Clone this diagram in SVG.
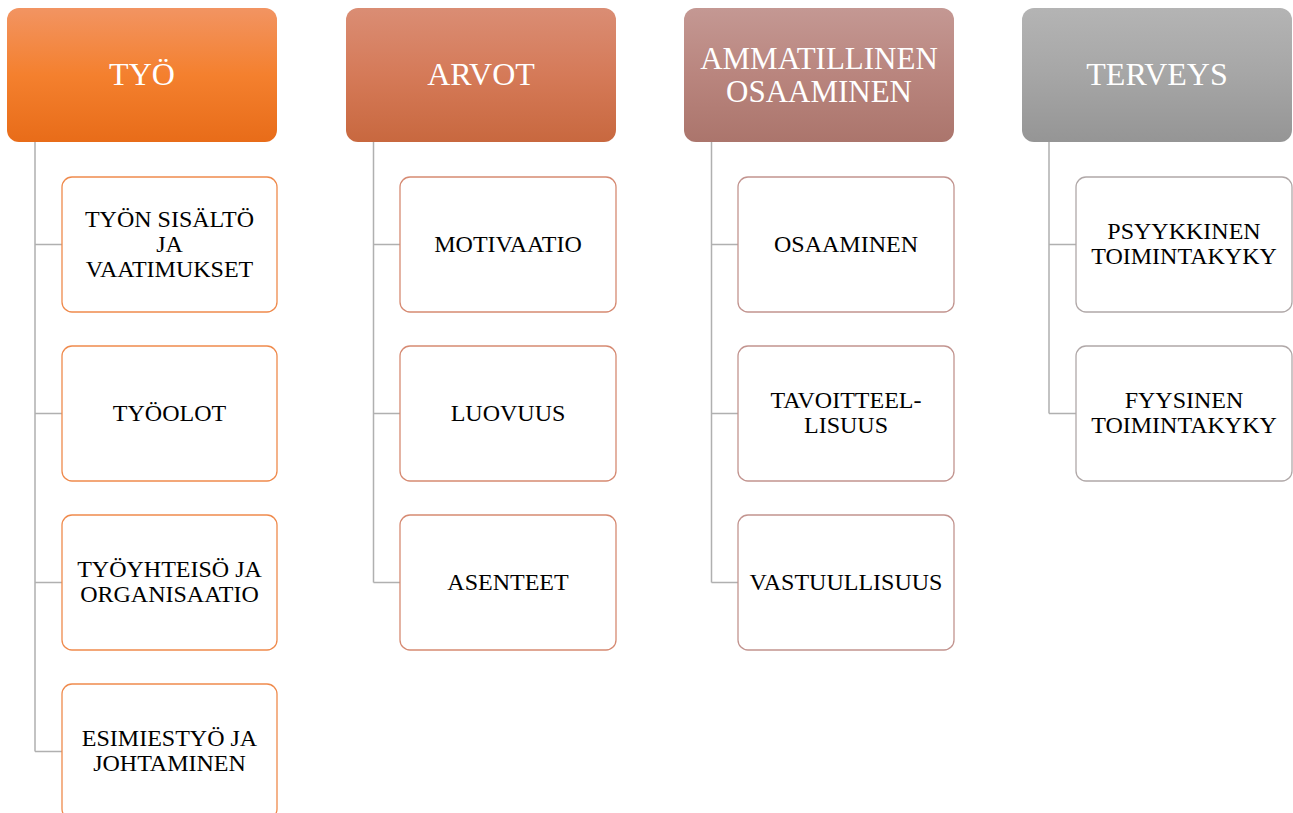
<svg xmlns="http://www.w3.org/2000/svg" width="1293" height="813" viewBox="0 0 1293 813">
<defs>
<linearGradient id="g1" x1="0" y1="0" x2="0" y2="1"><stop offset="0" stop-color="#f29462"/><stop offset="0.5" stop-color="#f4802e"/><stop offset="1" stop-color="#e86c19"/></linearGradient>
<linearGradient id="g2" x1="0" y1="0" x2="0" y2="1"><stop offset="0" stop-color="#da8d74"/><stop offset="0.5" stop-color="#d57a58"/><stop offset="1" stop-color="#c8683f"/></linearGradient>
<linearGradient id="g3" x1="0" y1="0" x2="0" y2="1"><stop offset="0" stop-color="#c49893"/><stop offset="0.5" stop-color="#b9857e"/><stop offset="1" stop-color="#ab756c"/></linearGradient>
<linearGradient id="g4" x1="0" y1="0" x2="0" y2="1"><stop offset="0" stop-color="#b4b4b4"/><stop offset="0.5" stop-color="#a6a6a6"/><stop offset="1" stop-color="#959595"/></linearGradient>
</defs>
<style>
.hd{font-family:"Liberation Serif","Times New Roman",serif;font-size:32px;fill:#ffffff;text-anchor:middle}
.hd2{font-size:31px}
.ch{font-family:"Liberation Serif","Times New Roman",serif;font-size:24px;fill:#000000;text-anchor:middle}
.c1{fill:#ffffff;stroke:#ef8a4c;stroke-width:1.3}
.c2{fill:#ffffff;stroke:#d68a72;stroke-width:1.3}
.c3{fill:#ffffff;stroke:#c2948f;stroke-width:1.3}
.c4{fill:#ffffff;stroke:#b0a8a8;stroke-width:1.3}
.ln{fill:none;stroke:#b0b0b0;stroke-width:1.5}
</style>
<rect width="1293" height="813" fill="#ffffff"/>
<g id="connectors">
<path class="ln" d="M35 142V751.5M35 244.5H62M35 413.5H62M35 582.5H62M35 751.5H62"/>
<path class="ln" d="M373.5 142V582.5M373.5 244.5H400M373.5 413.5H400M373.5 582.5H400"/>
<path class="ln" d="M711.5 142V582.5M711.5 244.5H738M711.5 413.5H738M711.5 582.5H738"/>
<path class="ln" d="M1049 142V413.5M1049 244.5H1076M1049 413.5H1076"/>
</g>
<g id="h-tyo"><rect x="7" y="8" width="270" height="134" rx="12" fill="url(#g1)"/><text class="hd" x="142" y="85">TYÖ</text></g>
<g id="h-arvot"><rect x="346" y="8" width="270" height="134" rx="12" fill="url(#g2)"/><text class="hd" x="481" y="85">ARVOT</text></g>
<g id="h-amm"><rect x="684" y="8" width="270" height="134" rx="12" fill="url(#g3)"/><text class="hd hd2" x="819" y="68.5">AMMATILLINEN</text><text class="hd hd2" x="819" y="101.5">OSAAMINEN</text></g>
<g id="h-terveys"><rect x="1022" y="8" width="270" height="134" rx="12" fill="url(#g4)"/><text class="hd" x="1157" y="85">TERVEYS</text></g>

<g id="n-tyon-sisalto"><rect class="c1" x="62" y="177" width="215" height="135" rx="10"/><text class="ch" x="169.5" y="227">TYÖN SISÄLTÖ</text><text class="ch" x="169.5" y="252">JA</text><text class="ch" x="169.5" y="277">VAATIMUKSET</text></g>
<g id="n-tyoolot"><rect class="c1" x="62" y="346" width="215" height="135" rx="10"/><text class="ch" x="169.5" y="421">TYÖOLOT</text></g>
<g id="n-tyoyhteiso"><rect class="c1" x="62" y="515" width="215" height="135" rx="10"/><text class="ch" x="169.5" y="577">TYÖYHTEISÖ JA</text><text class="ch" x="169.5" y="602">ORGANISAATIO</text></g>
<g id="n-esimiestyo"><rect class="c1" x="62" y="684" width="215" height="135" rx="10"/><text class="ch" x="169.5" y="746">ESIMIESTYÖ JA</text><text class="ch" x="169.5" y="771">JOHTAMINEN</text></g>

<g id="n-motivaatio"><rect class="c2" x="400" y="177" width="216" height="135" rx="10"/><text class="ch" x="508" y="252">MOTIVAATIO</text></g>
<g id="n-luovuus"><rect class="c2" x="400" y="346" width="216" height="135" rx="10"/><text class="ch" x="508" y="421">LUOVUUS</text></g>
<g id="n-asenteet"><rect class="c2" x="400" y="515" width="216" height="135" rx="10"/><text class="ch" x="508" y="590">ASENTEET</text></g>

<g id="n-osaaminen"><rect class="c3" x="738" y="177" width="216" height="135" rx="10"/><text class="ch" x="846" y="252">OSAAMINEN</text></g>
<g id="n-tavoitteellisuus"><rect class="c3" x="738" y="346" width="216" height="135" rx="10"/><text class="ch" x="846" y="408">TAVOITTEEL-</text><text class="ch" x="846" y="433">LISUUS</text></g>
<g id="n-vastuullisuus"><rect class="c3" x="738" y="515" width="216" height="135" rx="10"/><text class="ch" x="846" y="590">VASTUULLISUUS</text></g>

<g id="n-psyykkinen"><rect class="c4" x="1076" y="177" width="216" height="135" rx="10"/><text class="ch" x="1184" y="239">PSYYKKINEN</text><text class="ch" x="1184" y="264">TOIMINTAKYKY</text></g>
<g id="n-fyysinen"><rect class="c4" x="1076" y="346" width="216" height="135" rx="10"/><text class="ch" x="1184" y="408">FYYSINEN</text><text class="ch" x="1184" y="433">TOIMINTAKYKY</text></g>
</svg>
